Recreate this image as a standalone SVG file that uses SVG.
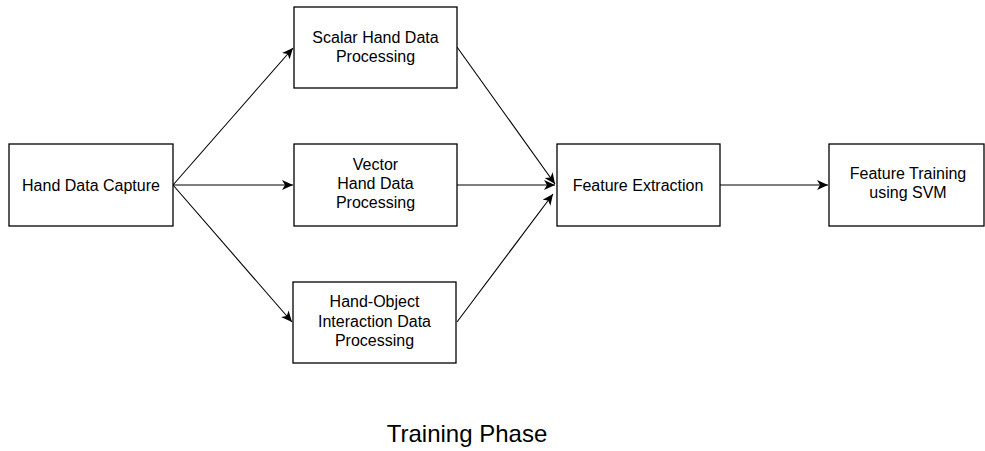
<svg xmlns="http://www.w3.org/2000/svg" width="985" height="451" viewBox="0 0 985 451">
<style>
.box{fill:#fff;stroke:#000;stroke-width:1.3}
.lbl{font-family:"Liberation Sans",Arial,sans-serif;font-size:16px;fill:#000;text-anchor:middle}
.edge{fill:none;stroke:#000;stroke-width:1.1}
.title{font-family:"Liberation Sans",Arial,sans-serif;font-size:24px;fill:#000;text-anchor:middle}
</style>
<defs>
<marker id="arr" markerUnits="userSpaceOnUse" markerWidth="12" markerHeight="10" refX="11" refY="5" orient="auto">
<path d="M0,0 L11,5 L0,10 L3,5 Z" fill="#000"/>
</marker>
</defs>
<rect width="985" height="451" fill="#fff"/>
<g id="connectors">
<line class="edge" x1="173" y1="185" x2="293" y2="48" marker-end="url(#arr)"/>
<line class="edge" x1="173" y1="185" x2="293" y2="185" marker-end="url(#arr)"/>
<line class="edge" x1="173" y1="185" x2="292" y2="322" marker-end="url(#arr)"/>
<line class="edge" x1="457" y1="47" x2="555" y2="184" marker-end="url(#arr)"/>
<line class="edge" x1="457" y1="185" x2="555" y2="185" marker-end="url(#arr)"/>
<line class="edge" x1="457" y1="322" x2="553" y2="194" marker-end="url(#arr)"/>
<line class="edge" x1="720" y1="185" x2="828" y2="185" marker-end="url(#arr)"/>
</g>
<g id="hand-data-capture">
<rect class="box" x="9" y="144" width="164" height="82"/>
<text class="lbl" x="91" y="191">Hand Data Capture</text>
</g>
<g id="scalar">
<rect class="box" x="294" y="7" width="163" height="81"/>
<text class="lbl" x="375.5" y="43">Scalar Hand Data</text>
<text class="lbl" x="375.5" y="62">Processing</text>
</g>
<g id="vector">
<rect class="box" x="294" y="144" width="163" height="82"/>
<text class="lbl" x="375.5" y="170">Vector</text>
<text class="lbl" x="375.5" y="189">Hand Data</text>
<text class="lbl" x="375.5" y="208">Processing</text>
</g>
<g id="hand-object">
<rect class="box" x="293" y="282" width="163" height="81"/>
<text class="lbl" x="374.5" y="307">Hand-Object</text>
<text class="lbl" x="374.5" y="327">Interaction Data</text>
<text class="lbl" x="374.5" y="346">Processing</text>
</g>
<g id="feature-extraction">
<rect class="box" x="557" y="144" width="163" height="82"/>
<text class="lbl" x="638" y="191">Feature Extraction</text>
</g>
<g id="feature-training">
<rect class="box" x="829" y="144" width="155" height="82"/>
<text class="lbl" x="908" y="179">Feature Training</text>
<text class="lbl" x="908" y="198">using SVM</text>
</g>
<text class="title" x="467" y="442">Training Phase</text>
</svg>
